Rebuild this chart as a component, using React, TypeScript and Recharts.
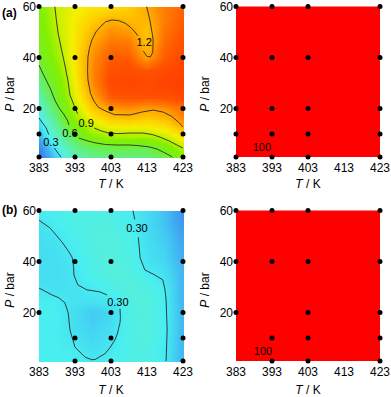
import React from "react";
import { ScatterChart, Scatter, XAxis, YAxis, ReferenceArea } from "recharts";

const FONT = "Arial, 'Liberation Sans', Helvetica, sans-serif";

// grid nodes of the maps
const temps = [383, 388, 393, 398, 403, 408, 413, 418, 423];
const pressures = [60, 55, 50, 45, 40, 35, 30, 25, 20, 15, 10, 5, 1];
const tTicks = [383, 393, 403, 413, 423];
const pTicks = [20, 40, 60];

// (a) left map, rows follow `pressures`, columns follow `temps`
const yieldA = [
  [0.74, 0.92, 0.98, 1.03, 1.05, 1.1, 1.2, 1.3, 1.35],
  [0.72, 0.91, 1.01, 1.1, 1.18, 1.15, 1.17, 1.3, 1.38],
  [0.7, 0.89, 1.02, 1.17, 1.26, 1.24, 1.13, 1.32, 1.4],
  [0.67, 0.86, 1.03, 1.22, 1.33, 1.32, 1.15, 1.35, 1.42],
  [0.63, 0.82, 1.04, 1.26, 1.38, 1.38, 1.22, 1.38, 1.45],
  [0.57, 0.76, 1.02, 1.28, 1.42, 1.43, 1.4, 1.44, 1.47],
  [0.51, 0.7, 1.0, 1.27, 1.44, 1.45, 1.44, 1.46, 1.48],
  [0.44, 0.64, 0.96, 1.21, 1.4, 1.42, 1.42, 1.43, 1.45],
  [0.36, 0.58, 0.89, 1.12, 1.23, 1.26, 1.22, 1.25, 1.33],
  [0.28, 0.5, 0.78, 0.98, 1.08, 1.1, 1.08, 1.12, 1.25],
  [0.22, 0.42, 0.62, 0.82, 0.89, 0.9, 0.9, 0.95, 1.08],
  [0.15, 0.32, 0.5, 0.58, 0.62, 0.62, 0.6, 0.72, 0.92],
  [0.08, 0.27, 0.42, 0.48, 0.5, 0.5, 0.52, 0.57, 0.72],
];

// (b) left map
const yieldB = [
  [0.31, 0.32, 0.33, 0.33, 0.33, 0.31, 0.28, 0.24, 0.16],
  [0.29, 0.31, 0.33, 0.34, 0.34, 0.31, 0.28, 0.24, 0.17],
  [0.28, 0.295, 0.32, 0.34, 0.35, 0.33, 0.28, 0.25, 0.19],
  [0.28, 0.285, 0.31, 0.34, 0.35, 0.33, 0.285, 0.26, 0.2],
  [0.28, 0.28, 0.3, 0.33, 0.35, 0.34, 0.29, 0.27, 0.21],
  [0.28, 0.28, 0.295, 0.33, 0.35, 0.35, 0.31, 0.285, 0.22],
  [0.29, 0.285, 0.29, 0.305, 0.33, 0.35, 0.34, 0.3, 0.22],
  [0.31, 0.305, 0.29, 0.29, 0.295, 0.34, 0.35, 0.305, 0.22],
  [0.31, 0.31, 0.28, 0.25, 0.27, 0.33, 0.35, 0.31, 0.22],
  [0.31, 0.31, 0.28, 0.26, 0.28, 0.33, 0.35, 0.31, 0.22],
  [0.31, 0.31, 0.29, 0.27, 0.29, 0.33, 0.35, 0.305, 0.22],
  [0.31, 0.31, 0.305, 0.285, 0.3, 0.33, 0.34, 0.3, 0.22],
  [0.31, 0.31, 0.31, 0.295, 0.31, 0.33, 0.34, 0.3, 0.22],
];

// right maps: selectivity is 100 everywhere
const selectivityA = 100;
const selectivityB = 100;

// measured conditions (T, P)
const pointsA: [number, number][] = [
  [383, 60], [393, 60], [403, 60], [423, 60],
  [383, 40], [393, 40], [403, 40], [423, 40],
  [383, 20], [393, 20], [403, 20], [423, 20],
  [383, 10], [393, 10], [403, 10], [423, 10],
  [383, 1], [393, 1], [403, 1], [423, 1],
];
const pointsB: [number, number][] = [
  [383, 60], [393, 60], [403, 60], [423, 60],
  [383, 40], [393, 40], [403, 40], [423, 40],
  [383, 20], [403, 20], [423, 20],
  [393, 10], [403, 10], [423, 10],
  [393, 1], [403, 1], [423, 1],
];

// contour lines (broken where the labels sit)
const contour03A: [number, number][] = [[383, 16.3], [384, 14.3], [385, 12.4], [385.7, 9.8]];
const contour03A2: [number, number][] = [[387.3, 4.5], [387.7, 3.7], [388.4, 2.3], [389.1, 1]];
const contour06A: [number, number][] = [
  [383, 37], [384.4, 32.8], [386.1, 28], [387.4, 23.3], [388.6, 20.2], [390, 17.5], [391, 15.1], [391.3, 13.5],
];
const contour06A2: [number, number][] = [
  [394.1, 8.4], [396.5, 7.3], [398.8, 6.5], [401.5, 5.9], [404.4, 5.7], [408.3, 5.7], [411, 5.4],
  [413.8, 4.9], [415.8, 4.1], [417.4, 3], [418.8, 2], [420, 1],
];
const contour09A: [number, number][] = [
  [387.4, 60], [387.8, 55], [388.3, 49.6], [389, 44.8], [389.7, 40.2], [390.2, 37], [391, 31.2],
  [391.6, 25.3], [392.7, 21.4], [393.7, 18],
];
const contour09A2: [number, number][] = [
  [398.3, 12.4], [400.3, 11.2], [402.4, 10.4], [405, 10.2], [408.3, 10.4], [411.9, 10.4], [414.5, 9.8],
  [416.6, 8.8], [419, 7.4], [421.3, 5.7], [423, 4.5],
];
const contour12A: [number, number][] = [
  [412.9, 60], [413.8, 54.7], [414.5, 49], [414.7, 46.9], [414.6, 42], [414, 40.3], [413, 40.4], [412, 42.5],
];
const contour12A2: [number, number][] = [
  [410.5, 48.5], [409.7, 50], [408.3, 52], [406.9, 53.5], [405, 54.5], [403.3, 54.7], [401.5, 54],
  [400, 52], [398.8, 50], [397.7, 46.9], [397, 43.5], [396.6, 40.2], [396.5, 35], [396.6, 31.2],
  [397.3, 26], [398.2, 23], [399.5, 20.5], [401.5, 19], [404, 17.6], [408.3, 17.5], [411.5, 18.6],
  [414.7, 19.4], [417.5, 18.6], [419.8, 17], [421.8, 14.6], [423, 12.8],
];
const contoursA = [contour03A, contour03A2, contour06A, contour06A2, contour09A, contour09A2, contour12A, contour12A2];

const contourLeftB: [number, number][] = [
  [383, 56.2], [386.1, 53.1], [389.4, 47.6], [391.2, 44], [392.2, 41.7], [392.6, 38], [392.7, 34.7],
  [393.8, 30.8], [396.3, 28.9], [399.9, 28.1], [401.9, 26.9],
];
const contourLeftB2: [number, number][] = [
  [405.5, 21.5], [405.6, 18], [405.5, 16], [404.7, 11.3], [404.1, 9.3], [402.7, 6.2], [401.3, 3.8],
  [399.9, 2.7], [398.6, 1.6], [397.7, 1.5], [395.8, 2.5], [393, 6.4], [391.6, 13.2], [391.1, 19.9],
  [390.2, 23.8], [388.5, 25.8], [386.6, 26.9], [383, 29.6],
];
const contourRightB: [number, number][] = [[409.1, 60], [409.6, 56.5]];
const contourRightB2: [number, number][] = [
  [410.6, 49.5], [411.1, 41.4], [412.4, 36.7], [415.2, 34.7], [417.4, 32.8], [418, 28.9],
  [418.3, 25], [418.6, 13.2], [418.3, 1],
];
const contoursB = [contourLeftB, contourLeftB2, contourRightB, contourRightB2];

const contourLabelsA = [
  { T: 386.3, P: 6.9, text: "0.3" },
  { T: 391.6, P: 10.2, text: "0.6" },
  { T: 396.1, P: 14.4, text: "0.9" },
  { T: 412.2, P: 46, text: "1.2" },
];
const contourLabelsB = [
  { T: 410.2, P: 53.1, text: "0.30" },
  { T: 404.9, P: 24.2, text: "0.30" },
];
const selLabelA = [{ T: 390.2, P: 4.9, text: String(selectivityA) }];
const selLabelB = [{ T: 390.5, P: 4.9, text: String(selectivityB) }];

// ---- layout ----
const CHART_W = 202;
const CHART_H = 195;
const Y_AXIS_W = 39;
const X_AXIS_H = 38;
const M_TOP = 6.5;
const M_RIGHT = 19;
const PLOT_W = CHART_W - Y_AXIS_W - M_RIGHT;
const PLOT_H = CHART_H - M_TOP - X_AXIS_H;
const T_MIN = temps[0];
const T_MAX = temps[temps.length - 1];
const P_MIN = pressures[pressures.length - 1];
const P_MAX = pressures[0];
const PX_T = PLOT_W / (T_MAX - T_MIN);
const PX_P = PLOT_H / (P_MAX - P_MIN);

const SEL_COLOR = "#fe0000";

const STOPS: [number, string][] = [
  [0.05, "#2a5ad8"],
  [0.12, "#3a7ee8"],
  [0.2, "#40a8f2"],
  [0.27, "#44d8f2"],
  [0.31, "#48eef0"],
  [0.36, "#58f0d8"],
  [0.45, "#5cf0a8"],
  [0.55, "#64f068"],
  [0.65, "#74f020"],
  [0.78, "#84f000"],
  [0.9, "#c0f000"],
  [1.0, "#f4f000"],
  [1.1, "#ffd000"],
  [1.2, "#ffaa00"],
  [1.3, "#ff7c00"],
  [1.4, "#ff5400"],
  [1.5, "#ff3a00"],
];

const hex = (h: string) => [1, 3, 5].map((i) => parseInt(h.slice(i, i + 2), 16));

function colorAt(v: number) {
  if (v <= STOPS[0][0]) return STOPS[0][1];
  for (let i = 1; i < STOPS.length; i++) {
    if (v <= STOPS[i][0]) {
      const [v0, c0] = STOPS[i - 1];
      const [v1, c1] = STOPS[i];
      const f = (v - v0) / (v1 - v0);
      const a = hex(c0);
      const b = hex(c1);
      const c = a.map((x, k) => Math.round(x + (b[k] - x) * f));
      return `rgb(${c[0]},${c[1]},${c[2]})`;
    }
  }
  return STOPS[STOPS.length - 1][1];
}

function buildCells(grid: number[][]) {
  const cells = [];
  for (let r = 1; r < pressures.length; r++) {
    for (let c = 0; c < temps.length - 1; c++) {
      cells.push({
        T: temps[c],
        P: pressures[r],
        dT: temps[c + 1] - temps[c],
        dP: pressures[r - 1] - pressures[r],
        v00: grid[r][c],
        v10: grid[r][c + 1],
        v01: grid[r - 1][c],
        v11: grid[r - 1][c + 1],
      });
    }
  }
  return cells;
}

const toPts = (arr: [number, number][]) => arr.map(([T, P]) => ({ T, P }));

// one grid cell, shaded bilinearly between its four corner values
const HeatCell = (props: any) => {
  const { cx, cy, payload } = props;
  const w = payload.dT * PX_T;
  const h = payload.dP * PX_P;
  const nx = Math.max(1, Math.round(w / 2));
  const ny = Math.max(1, Math.round(h / 2));
  const rects = [];
  for (let i = 0; i < nx; i++) {
    for (let j = 0; j < ny; j++) {
      const u = (i + 0.5) / nx;
      const t = (j + 0.5) / ny;
      const v =
        payload.v00 * (1 - u) * (1 - t) +
        payload.v10 * u * (1 - t) +
        payload.v01 * (1 - u) * t +
        payload.v11 * u * t;
      rects.push(
        <rect
          key={i + "-" + j}
          x={cx + (i * w) / nx}
          y={cy - ((j + 1) * h) / ny}
          width={w / nx + 0.6}
          height={h / ny + 0.6}
          fill={colorAt(v)}
        />
      );
    }
  }
  return <g shapeRendering="crispEdges">{rects}</g>;
};

const Dot = (props: any) => <circle cx={props.cx} cy={props.cy} r={2.5} fill="#000" />;

const TextMark = (props: any) => (
  <text
    x={props.cx}
    y={props.cy}
    dy="0.36em"
    textAnchor="middle"
    fontSize={11}
    fontFamily={FONT}
    fill="#000"
  >
    {props.payload.text}
  </text>
);

const NoShape = () => <g />;

type PanelProps = {
  left: number;
  top: number;
  grid?: number[][];
  fill?: string;
  contours: [number, number][][];
  labels: { T: number; P: number; text: string }[];
  points: [number, number][];
};

function MapPanel({ left, top, grid, fill, contours, labels, points }: PanelProps) {
  const tickStyle = { fontSize: 12, fill: "#000", fontFamily: FONT };
  return (
    <div style={{ position: "absolute", left, top }}>
      <ScatterChart
        width={CHART_W}
        height={CHART_H}
        margin={{ top: M_TOP, right: M_RIGHT, bottom: 0, left: 0 }}
      >
        <XAxis
          type="number"
          dataKey="T"
          domain={[T_MIN, T_MAX]}
          ticks={tTicks}
          interval={0}
          height={X_AXIS_H}
          tickLine={false}
          axisLine={false}
          tickSize={6}
          tickMargin={0}
          tick={tickStyle}
        />
        <YAxis
          type="number"
          dataKey="P"
          domain={[P_MIN, P_MAX]}
          ticks={pTicks}
          interval={0}
          width={Y_AXIS_W}
          tickLine={false}
          axisLine={false}
          tickSize={3}
          tickMargin={0}
          tick={tickStyle}
        />
        {fill && (
          <ReferenceArea
            x1={T_MIN}
            x2={T_MAX}
            y1={P_MIN}
            y2={P_MAX}
            fill={fill}
            fillOpacity={1}
            stroke="none"
          />
        )}
        {grid && (
          <Scatter data={buildCells(grid)} shape={HeatCell} isAnimationActive={false} />
        )}
        {contours.map((c, i) => (
          <Scatter
            key={"c" + i}
            data={toPts(c)}
            line={{ stroke: "#2a2a2a", strokeWidth: 0.9 }}
            lineJointType="linear"
            shape={NoShape}
            isAnimationActive={false}
          />
        ))}
        <Scatter data={toPts(points)} shape={Dot} isAnimationActive={false} />
        <Scatter data={labels} shape={TextMark} isAnimationActive={false} />
      </ScatterChart>
    </div>
  );
}

const textBase: React.CSSProperties = {
  position: "absolute",
  fontFamily: FONT,
  fontSize: 12,
  color: "#000",
  whiteSpace: "nowrap",
  lineHeight: 1,
  transform: "translate(-50%, -50%)",
};

const XTitle = ({ x, y }: { x: number; y: number }) => (
  <div style={{ ...textBase, left: x, top: y }}>
    <i>T</i> / K
  </div>
);

const YTitle = ({ x, y }: { x: number; y: number }) => (
  <div style={{ ...textBase, left: x, top: y, transform: "translate(-50%, -50%) rotate(-90deg)" }}>
    <i>P</i> / bar
  </div>
);

export default function App() {
  return (
    <div style={{ position: "relative", width: 391, height: 397, overflow: "hidden", background: "#fff" }}>
      <style>{"body{margin:0}"}</style>
      <MapPanel left={0} top={0} grid={yieldA} contours={contoursA} labels={contourLabelsA} points={pointsA} />
      <MapPanel left={197} top={0} fill={SEL_COLOR} contours={[]} labels={selLabelA} points={pointsA} />
      <MapPanel left={0} top={204} grid={yieldB} contours={contoursB} labels={contourLabelsB} points={pointsB} />
      <MapPanel left={197} top={204} fill={SEL_COLOR} contours={[]} labels={selLabelB} points={pointsB} />

      <XTitle x={111} y={184} />
      <XTitle x={308} y={184} />
      <XTitle x={111} y={389.5} />
      <XTitle x={308} y={389.5} />
      <YTitle x={10} y={94} />
      <YTitle x={205} y={94} />
      <YTitle x={10} y={290} />
      <YTitle x={205} y={290} />

      <div style={{ ...textBase, transform: "none", left: 2, top: 7, fontWeight: "bold" }}>(a)</div>
      <div style={{ ...textBase, transform: "none", left: 2, top: 204, fontWeight: "bold" }}>(b)</div>
    </div>
  );
}
